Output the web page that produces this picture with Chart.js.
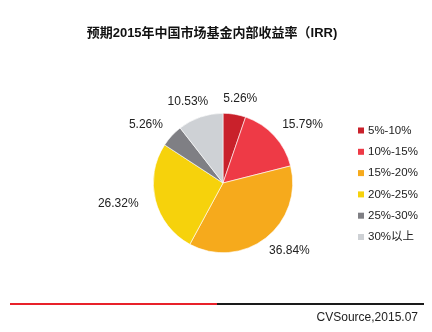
<!DOCTYPE html>
<html>
<head>
<meta charset="utf-8">
<script src="https://cdn.jsdelivr.net/npm/chart.js@4/dist/chart.umd.min.js"></script>
<style>
  html, body { margin: 0; padding: 0; background: #fff; }
  #wrap { position: relative; width: 432px; height: 332px; overflow: hidden; }
  #title { position: absolute; left: 0; top: 22px; width: 424px; text-align: center;
    font: bold 13px "Liberation Sans", "Noto Sans CJK SC", sans-serif; color: #111; }
  #rule { position: absolute; left: 10px; top: 303px; width: 414px; height: 2px;
    background: linear-gradient(to right, #e8212a 0, #e8212a 50%, #1a1a1a 50%, #1a1a1a 100%); }
  #source { position: absolute; right: 14px; top: 310px;
    font: 12px "Liberation Sans", sans-serif; color: #222; }
  canvas { position: absolute; left: 0; top: 0; }
</style>
</head>
<body>
<div id="wrap">
  <canvas id="pie" width="432" height="332"></canvas>
  <div id="title">预期2015年中国市场基金内部收益率（IRR)</div>
  <div id="rule"></div>
  <div id="source">CVSource,2015.07</div>
</div>
<script>
// ─── DATA ─────────────────────────────────────────────────────────────────────
const ranges = ['5%-10%', '10%-15%', '15%-20%', '20%-25%', '25%-30%', '30%以上'];
const shares = [5.26, 15.79, 36.84, 26.32, 5.26, 10.53];
const colors = ['#c9212b', '#ee3a46', '#f6aa1c', '#f6d20c', '#7f7f84', '#ced1d5'];

const FONT = '"Liberation Sans", "Noto Sans CJK SC", sans-serif';

// value labels just outside each slice (pushed a bit further sideways than up/down)
const sliceLabels = {
  id: 'sliceLabels',
  afterDatasetsDraw(chart) {
    const ctx = chart.ctx;
    const meta = chart.getDatasetMeta(0);
    ctx.save();
    ctx.font = '12px ' + FONT;
    ctx.fillStyle = '#222';
    ctx.textAlign = 'center';
    ctx.textBaseline = 'middle';
    meta.data.forEach((arc, i) => {
      const mid = (arc.startAngle + arc.endAngle) / 2;
      const txt = shares[i].toFixed(2) + '%';
      const w = ctx.measureText(txt).width;
      const dx = Math.cos(mid), dy = Math.sin(mid);
      const cx = arc.x + dx * (arc.outerRadius + 18) + dx * w / 2;
      const cy = arc.y + dy * (arc.outerRadius + 10) + dy * 6;
      ctx.fillText(txt, cx, cy);
    });
    ctx.restore();
  }
};

// legend column on the right
const sideLegend = {
  id: 'sideLegend',
  afterDraw(chart) {
    const ctx = chart.ctx;
    ctx.save();
    ctx.font = '11.5px ' + FONT;
    ctx.textBaseline = 'middle';
    ranges.forEach((name, i) => {
      const y = 130.5 + i * 21.3;
      ctx.fillStyle = colors[i];
      ctx.fillRect(358, y - 3, 6, 6);
      ctx.fillStyle = '#222';
      ctx.fillText(name, 368, y);
    });
    ctx.restore();
  }
};

new Chart(document.getElementById('pie'), {
  type: 'pie',
  data: {
    labels: ranges,
    datasets: [{ data: shares, backgroundColor: colors, borderColor: '#fff', borderWidth: 0.6 }]
  },
  options: {
    responsive: false,
    animation: false,
    layout: { padding: { left: 153, right: 139, top: 113, bottom: 79 } },
    plugins: { legend: { display: false }, tooltip: { enabled: false } }
  },
  plugins: [sliceLabels, sideLegend]
});
</script>
</body>
</html>
